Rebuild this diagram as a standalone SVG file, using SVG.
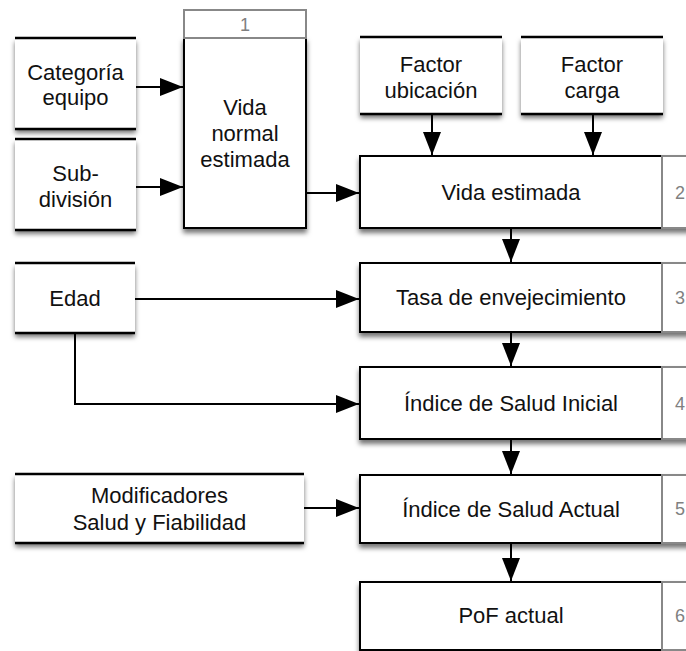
<svg xmlns="http://www.w3.org/2000/svg" width="686" height="651" viewBox="0 0 686 651">
  <defs>
    <filter id="shadow" x="-10%" y="-10%" width="120%" height="140%">
      <feDropShadow dx="0" dy="4" stdDeviation="2.5" flood-color="#000" flood-opacity="0.55"/>
    </filter>
    <marker id="arrow" markerUnits="userSpaceOnUse" markerWidth="24" markerHeight="18" refX="23" refY="9" orient="auto">
      <path d="M0,0 L23,9 L0,18 Z" fill="#000"/>
    </marker>
    <style>
      .lbl { font-family: "Liberation Sans", Arial, Helvetica, sans-serif; font-size: 22px; fill: #111; text-anchor: middle; }
      .num { font-family: "Liberation Sans", Arial, Helvetica, sans-serif; font-size: 18px; fill: #808080; text-anchor: middle; }
      .box { fill: #fff; stroke: #000; stroke-width: 2; }
      .tag { fill: #fff; stroke: #888; stroke-width: 2; }
      .store { fill: #fff; }
      .rule { stroke: #000; stroke-width: 2.5; }
      .link { fill: none; stroke: #000; stroke-width: 2; marker-end: url(#arrow); }
    </style>
  </defs>
  <rect width="686" height="651" fill="#fff"/>

  <!-- input data stores: white panel with top and bottom rules -->
  <g id="categoria-equipo">
    <rect class="store" x="15" y="38" width="121" height="91" filter="url(#shadow)"/>
    <line class="rule" x1="15" y1="38" x2="136" y2="38"/>
    <line class="rule" x1="15" y1="129" x2="136" y2="129"/>
    <text class="lbl" x="75.5" y="80">Categoría</text>
    <text class="lbl" x="75.5" y="105">equipo</text>
  </g>
  <g id="subdivision">
    <rect class="store" x="15" y="139" width="121" height="91" filter="url(#shadow)"/>
    <line class="rule" x1="15" y1="139" x2="136" y2="139"/>
    <line class="rule" x1="15" y1="230" x2="136" y2="230"/>
    <text class="lbl" x="75.5" y="181">Sub-</text>
    <text class="lbl" x="75.5" y="207">división</text>
  </g>
  <g id="factor-ubicacion">
    <rect class="store" x="360" y="37" width="142" height="77" filter="url(#shadow)"/>
    <line class="rule" x1="360" y1="37" x2="502" y2="37"/>
    <line class="rule" x1="360" y1="114" x2="502" y2="114"/>
    <text class="lbl" x="431" y="72">Factor</text>
    <text class="lbl" x="431" y="98">ubicación</text>
  </g>
  <g id="factor-carga">
    <rect class="store" x="521" y="37" width="142" height="77" filter="url(#shadow)"/>
    <line class="rule" x1="521" y1="37" x2="663" y2="37"/>
    <line class="rule" x1="521" y1="114" x2="663" y2="114"/>
    <text class="lbl" x="592" y="72">Factor</text>
    <text class="lbl" x="592" y="98">carga</text>
  </g>
  <g id="edad">
    <rect class="store" x="15" y="263" width="120" height="70" filter="url(#shadow)"/>
    <line class="rule" x1="15" y1="263" x2="135" y2="263"/>
    <line class="rule" x1="15" y1="333" x2="135" y2="333"/>
    <text class="lbl" x="75" y="306">Edad</text>
  </g>
  <g id="modificadores">
    <rect class="store" x="15" y="474" width="289" height="69" filter="url(#shadow)"/>
    <line class="rule" x1="15" y1="474" x2="304" y2="474"/>
    <line class="rule" x1="15" y1="543" x2="304" y2="543"/>
    <text class="lbl" x="159.5" y="503">Modificadores</text>
    <text class="lbl" x="159.5" y="530">Salud y Fiabilidad</text>
  </g>

  <!-- numbered process steps -->
  <g id="step-1">
    <g filter="url(#shadow)">
      <rect class="box" x="184" y="38" width="122" height="190"/>
    </g>
    <rect class="tag" x="184" y="10" width="122" height="28"/>
    <text class="num" x="245" y="31">1</text>
    <text class="lbl" x="245" y="115">Vida</text>
    <text class="lbl" x="245" y="141">normal</text>
    <text class="lbl" x="245" y="167">estimada</text>
  </g>
  <g id="step-2">
    <g filter="url(#shadow)">
      <rect class="box" x="360" y="156" width="302" height="72"/>
      <rect class="tag" x="662" y="156" width="40" height="72"/>
    </g>
    <text class="lbl" x="511" y="200">Vida estimada</text>
    <text class="num" x="680" y="199">2</text>
  </g>
  <g id="step-3">
    <g filter="url(#shadow)">
      <rect class="box" x="360" y="263" width="302" height="69"/>
      <rect class="tag" x="662" y="263" width="40" height="69"/>
    </g>
    <text class="lbl" x="511" y="305">Tasa de envejecimiento</text>
    <text class="num" x="680" y="304">3</text>
  </g>
  <g id="step-4">
    <g filter="url(#shadow)">
      <rect class="box" x="360" y="367" width="302" height="72"/>
      <rect class="tag" x="662" y="367" width="40" height="72"/>
    </g>
    <text class="lbl" x="511" y="411">Índice de Salud Inicial</text>
    <text class="num" x="680" y="410">4</text>
  </g>
  <g id="step-5">
    <g filter="url(#shadow)">
      <rect class="box" x="360" y="475" width="302" height="68"/>
      <rect class="tag" x="662" y="475" width="40" height="68"/>
    </g>
    <text class="lbl" x="511" y="517">Índice de Salud Actual</text>
    <text class="num" x="680" y="515">5</text>
  </g>
  <g id="step-6">
    <g filter="url(#shadow)">
      <rect class="box" x="360" y="582" width="302" height="68"/>
      <rect class="tag" x="662" y="582" width="40" height="68"/>
    </g>
    <text class="lbl" x="511" y="623">PoF actual</text>
    <text class="num" x="680" y="622">6</text>
  </g>

  <!-- connectors -->
  <g id="connectors">
    <line class="link" x1="136" y1="87" x2="183" y2="87"/>
    <line class="link" x1="136" y1="187" x2="183" y2="187"/>
    <line class="link" x1="306" y1="193" x2="359" y2="193"/>
    <line class="link" x1="432" y1="115" x2="432" y2="155"/>
    <line class="link" x1="593" y1="115" x2="593" y2="155"/>
    <line class="link" x1="511" y1="229" x2="511" y2="262"/>
    <line class="link" x1="135" y1="299" x2="359" y2="299"/>
    <polyline class="link" points="75,334 75,404 359,404"/>
    <line class="link" x1="511" y1="333" x2="511" y2="366"/>
    <line class="link" x1="511" y1="440" x2="511" y2="474"/>
    <line class="link" x1="304" y1="508" x2="359" y2="508"/>
    <line class="link" x1="511" y1="544" x2="511" y2="581"/>
  </g>
</svg>
